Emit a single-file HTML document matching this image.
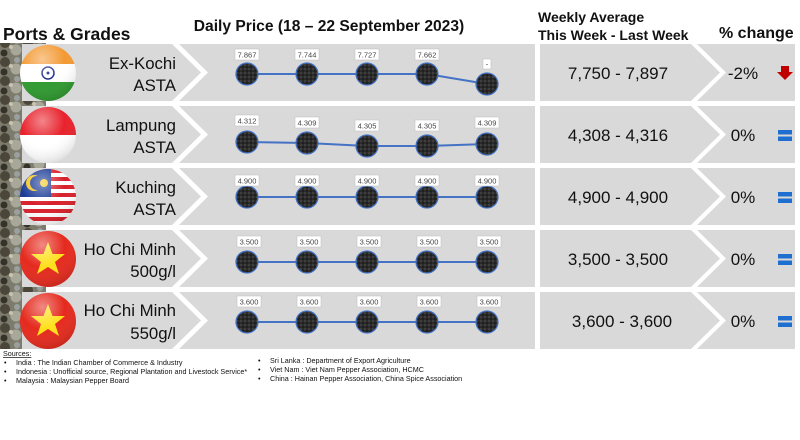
<!DOCTYPE html>
<html><head><meta charset="utf-8"><style>
body{margin:0;background:#fff;width:800px;height:435px;overflow:hidden;font-family:"Liberation Sans",sans-serif}
</style></head><body>
<svg width="800" height="435" viewBox="0 0 800 435" xmlns="http://www.w3.org/2000/svg" font-family="Liberation Sans, sans-serif">
<defs>
<pattern id="pep" width="23" height="19" patternUnits="userSpaceOnUse">
<rect width="23" height="19" fill="#7d7b6c"/>
<circle cx="5" cy="5" r="5" fill="#4a463a"/><circle cx="16" cy="12" r="5.5" fill="#a8a89a"/><circle cx="4" cy="15" r="3.5" fill="#35322a"/><circle cx="17" cy="3" r="3" fill="#9aa0a0"/><circle cx="11" cy="9" r="2" fill="#c8c4b0"/>
</pattern>
<pattern id="grain" width="4" height="4" patternUnits="userSpaceOnUse">
<rect width="4" height="4" fill="#2b2b2b"/><circle cx="1" cy="1" r="0.8" fill="#555"/><circle cx="3" cy="3" r="0.8" fill="#111"/>
</pattern>
<radialGradient id="shine" cx="0.4" cy="0.25" r="0.8"><stop offset="0" stop-color="#fff" stop-opacity="0.45"/><stop offset="0.5" stop-color="#fff" stop-opacity="0"/><stop offset="1" stop-color="#000" stop-opacity="0.15"/></radialGradient>
<clipPath id="fc"><circle cx="0" cy="0" r="28"/></clipPath>
</defs>
<rect x="0" y="43" width="46" height="306" fill="url(#pep)"/>

<g fill="#d9d9d9">
<polygon points="22,44 172,44 201,72.5 172,101 22,101"/><polygon points="179,44 535,44 535,101 179,101 208,72.5"/><polygon points="540,44 691,44 720,72.5 691,101 540,101"/><polygon points="697,44 795,44 795,101 697,101 726,72.5"/>
<polygon points="22,106 172,106 201,134.5 172,163 22,163"/><polygon points="179,106 535,106 535,163 179,163 208,134.5"/><polygon points="540,106 691,106 720,134.5 691,163 540,163"/><polygon points="697,106 795,106 795,163 697,163 726,134.5"/>
<polygon points="22,168 172,168 201,196.5 172,225 22,225"/><polygon points="179,168 535,168 535,225 179,225 208,196.5"/><polygon points="540,168 691,168 720,196.5 691,225 540,225"/><polygon points="697,168 795,168 795,225 697,225 726,196.5"/>
<polygon points="22,230 172,230 201,258.5 172,287 22,287"/><polygon points="179,230 535,230 535,287 179,287 208,258.5"/><polygon points="540,230 691,230 720,258.5 691,287 540,287"/><polygon points="697,230 795,230 795,287 697,287 726,258.5"/>
<polygon points="22,292 172,292 201,320.5 172,349 22,349"/><polygon points="179,292 535,292 535,349 179,349 208,320.5"/><polygon points="540,292 691,292 720,320.5 691,349 540,349"/><polygon points="697,292 795,292 795,349 697,349 726,320.5"/>
</g>

<!-- flags -->
<g transform="translate(48,73)"><g clip-path="url(#fc)"><rect x="-28" y="-28" width="56" height="19" fill="#f39a34"/><rect x="-28" y="-9" width="56" height="18" fill="#fff"/><rect x="-28" y="9" width="56" height="19" fill="#2f9a2f"/><circle r="6" fill="none" stroke="#1a2a8c" stroke-width="1.5"/><circle r="1.5" fill="#1a2a8c"/></g><circle r="28" fill="url(#shine)"/></g>
<g transform="translate(48,135)"><g clip-path="url(#fc)"><rect x="-28" y="-28" width="56" height="28" fill="#e8222c"/><rect x="-28" y="0" width="56" height="28" fill="#fff"/></g><circle r="28" fill="url(#shine)"/></g>
<g transform="translate(48,197)"><g clip-path="url(#fc)"><rect x="-28" y="-28" width="56" height="56" fill="#fff"/><g fill="#d8202c"><rect x="-28" y="-28" width="56" height="4"/><rect x="-28" y="-20" width="56" height="4"/><rect x="-28" y="-12" width="56" height="4"/><rect x="-28" y="-4" width="56" height="4"/><rect x="-28" y="4" width="56" height="4"/><rect x="-28" y="12" width="56" height="4"/><rect x="-28" y="20" width="56" height="4"/></g><rect x="-28" y="-28" width="31" height="28" fill="#1a3a96"/><circle cx="-14" cy="-14" r="8" fill="#f5c518"/><circle cx="-11" cy="-14" r="7" fill="#1a3a96"/><circle cx="-4" cy="-14" r="4" fill="#f5c518"/></g><circle r="28" fill="url(#shine)"/></g>
<g transform="translate(48,259)"><circle r="28" fill="#e52a1e"/><polygon points="0,-17 4.5,-5 17,-5 7,3 11,15 0,8 -11,15 -7,3 -17,-5 -4.5,-5" fill="#ffe01a"/><circle r="28" fill="url(#shine)"/></g>
<g transform="translate(48,321)"><circle r="28" fill="#e52a1e"/><polygon points="0,-17 4.5,-5 17,-5 7,3 11,15 0,8 -11,15 -7,3 -17,-5 -4.5,-5" fill="#ffe01a"/><circle r="28" fill="url(#shine)"/></g>

<!-- headers -->
<g fill="#111">
<text x="3" y="40" font-size="17.5" font-weight="bold">Ports &amp; Grades</text>
<text x="329" y="31" font-size="15.6" font-weight="bold" text-anchor="middle">Daily Price (18 – 22 September 2023)</text>
<text x="538" y="22" font-size="14" font-weight="bold">Weekly Average</text>
<text x="538" y="40" font-size="14" font-weight="bold">This Week - Last Week</text>
<text x="719" y="38" font-size="16" font-weight="bold">% change</text>
</g>

<!-- names -->
<g fill="#111" font-size="16.8" text-anchor="end">
<text x="176" y="69">Ex-Kochi</text><text x="176" y="91">ASTA</text>
<text x="176" y="131">Lampung</text><text x="176" y="153">ASTA</text>
<text x="176" y="193">Kuching</text><text x="176" y="215">ASTA</text>
<text x="176" y="255">Ho Chi Minh</text><text x="176" y="277">500g/l</text>
<text x="176" y="316">Ho Chi Minh</text><text x="176" y="339">550g/l</text>
</g>
<g fill="#111" font-size="17" text-anchor="middle">
<text x="618" y="79">7,750 - 7,897</text>
<text x="618" y="141">4,308 - 4,316</text>
<text x="618" y="203">4,900 - 4,900</text>
<text x="618" y="265">3,500 - 3,500</text>
<text x="622" y="327">3,600 - 3,600</text>
<text x="743" y="79">-2%</text><text x="743" y="141">0%</text><text x="743" y="203">0%</text><text x="743" y="265">0%</text><text x="743" y="327">0%</text>
</g>
<polygon points="781,66 789,66 789,72 793,72 785,80 777,72 781,72" fill="#c00000"/>
<g fill="#1f6fd0"><rect x="778" y="130" width="14" height="4.5"/><rect x="778" y="136.5" width="14" height="4.5"/><rect x="778" y="192" width="14" height="4.5"/><rect x="778" y="198.5" width="14" height="4.5"/><rect x="778" y="254" width="14" height="4.5"/><rect x="778" y="260.5" width="14" height="4.5"/><rect x="778" y="316" width="14" height="4.5"/><rect x="778" y="322.5" width="14" height="4.5"/></g>

<!-- series lines -->
<g stroke="#4472c4" stroke-width="2" fill="none">
<polyline points="247,74 307,74 367,74 427,74 487,84"/>
<polyline points="247,142 307,143 367,146 427,146 487,144"/>
<polyline points="247,197 307,197 367,197 427,197 487,197"/>
<polyline points="247,262 307,262 367,262 427,262 487,262"/>
<polyline points="247,322 307,322 367,322 427,322 487,322"/>
</g>
<g fill="url(#grain)" stroke="#4472c4" stroke-width="1.2">
<circle cx="247" cy="74" r="11"/><circle cx="307" cy="74" r="11"/><circle cx="367" cy="74" r="11"/><circle cx="427" cy="74" r="11"/><circle cx="487" cy="84" r="11"/>
<circle cx="247" cy="142" r="11"/><circle cx="307" cy="143" r="11"/><circle cx="367" cy="146" r="11"/><circle cx="427" cy="146" r="11"/><circle cx="487" cy="144" r="11"/>
<circle cx="247" cy="197" r="11"/><circle cx="307" cy="197" r="11"/><circle cx="367" cy="197" r="11"/><circle cx="427" cy="197" r="11"/><circle cx="487" cy="197" r="11"/>
<circle cx="247" cy="262" r="11"/><circle cx="307" cy="262" r="11"/><circle cx="367" cy="262" r="11"/><circle cx="427" cy="262" r="11"/><circle cx="487" cy="262" r="11"/>
<circle cx="247" cy="322" r="11"/><circle cx="307" cy="322" r="11"/><circle cx="367" cy="322" r="11"/><circle cx="427" cy="322" r="11"/><circle cx="487" cy="322" r="11"/>
</g>
<!-- labels -->
<g font-size="7.5" fill="#444" text-anchor="middle">
<g fill="#fff" stroke="#bbb" stroke-width="0.5">
<rect x="235" y="49" width="24" height="11"/><rect x="295" y="49" width="24" height="11"/><rect x="355" y="49" width="24" height="11"/><rect x="415" y="49" width="24" height="11"/><rect x="483" y="59" width="8" height="10"/>
<rect x="235" y="115" width="24" height="11"/><rect x="295" y="117" width="24" height="11"/><rect x="355" y="120" width="24" height="11"/><rect x="415" y="120" width="24" height="11"/><rect x="475" y="117" width="24" height="11"/>
<rect x="235" y="175" width="24" height="11"/><rect x="295" y="175" width="24" height="11"/><rect x="355" y="175" width="24" height="11"/><rect x="415" y="175" width="24" height="11"/><rect x="475" y="175" width="24" height="11"/>
<rect x="237" y="236" width="24" height="11"/><rect x="297" y="236" width="24" height="11"/><rect x="357" y="236" width="24" height="11"/><rect x="417" y="236" width="24" height="11"/><rect x="477" y="236" width="24" height="11"/>
<rect x="237" y="296" width="24" height="11"/><rect x="297" y="296" width="24" height="11"/><rect x="357" y="296" width="24" height="11"/><rect x="417" y="296" width="24" height="11"/><rect x="477" y="296" width="24" height="11"/>
</g>
<text x="247" y="57.5">7.867</text><text x="307" y="57.5">7.744</text><text x="367" y="57.5">7.727</text><text x="427" y="57.5">7.662</text><text x="487" y="66.5">-</text>
<text x="247" y="123.5">4.312</text><text x="307" y="125.5">4.309</text><text x="367" y="128.5">4.305</text><text x="427" y="128.5">4.305</text><text x="487" y="125.5">4.309</text>
<text x="247" y="183.5">4.900</text><text x="307" y="183.5">4.900</text><text x="367" y="183.5">4.900</text><text x="427" y="183.5">4.900</text><text x="487" y="183.5">4.900</text>
<text x="249" y="244.5">3.500</text><text x="309" y="244.5">3.500</text><text x="369" y="244.5">3.500</text><text x="429" y="244.5">3.500</text><text x="489" y="244.5">3.500</text>
<text x="249" y="304.5">3.600</text><text x="309" y="304.5">3.600</text><text x="369" y="304.5">3.600</text><text x="429" y="304.5">3.600</text><text x="489" y="304.5">3.600</text>
</g>

<!-- sources -->
<g font-size="7.2" fill="#111">
<text x="3" y="356" text-decoration="underline">Sources:</text>
<text x="4" y="365">•</text><text x="16" y="365">India : The Indian Chamber of Commerce &amp; Industry</text>
<text x="4" y="374">•</text><text x="16" y="374">Indonesia : Unofficial source, Regional Plantation and Livestock Service*</text>
<text x="4" y="383">•</text><text x="16" y="383">Malaysia : Malaysian Pepper Board</text>
<text x="258" y="363">•</text><text x="270" y="363">Sri Lanka : Department of Export Agriculture</text>
<text x="258" y="372">•</text><text x="270" y="372">Viet Nam : Viet Nam Pepper Association, HCMC</text>
<text x="258" y="381">•</text><text x="270" y="381">China : Hainan Pepper Association, China Spice Association</text>
</g>
</svg>
</body></html>
